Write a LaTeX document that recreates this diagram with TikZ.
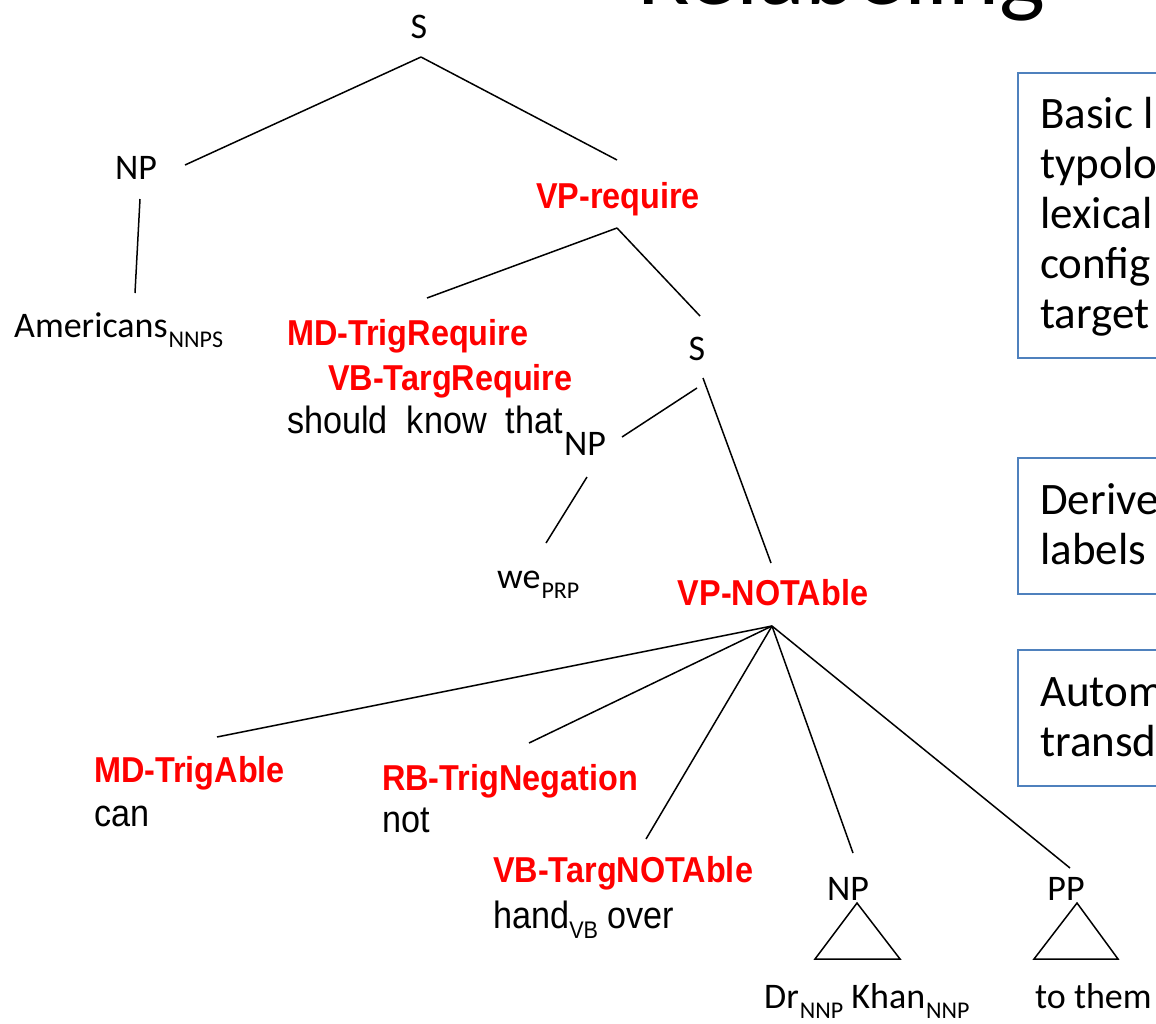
\documentclass[tikz,border=0pt]{standalone}
\usepackage{fontspec}
\setmainfont{Carlito}
\newfontfamily\narrowfont[FakeStretch=0.9]{Liberation Sans}
\definecolor{boxblue}{RGB}{79,129,189}
\definecolor{lblred}{RGB}{255,0,0}
\newcommand\subtag[1]{\kern1pt\raisebox{-10pt}{\fontsize{24}{25}\selectfont #1}}
\newcommand\subtagw[1]{\raisebox{-10pt}{\fontsize{24}{25}\selectfont #1}}
\begin{document}
\begin{tikzpicture}[x=1pt,y=-1pt,
  lbl/.style={inner sep=0pt, font=\fontsize{36}{42}\selectfont},
  redlbl/.style={inner sep=0pt, text=lblred, font=\narrowfont\bfseries\fontsize{36}{42}\selectfont},
  word/.style={inner sep=0pt, font=\narrowfont\fontsize{38}{42}\selectfont},
  edge/.style={line width=1.5pt, black},
  bluebox/.style={draw=boxblue, line width=2pt, inner sep=0pt, anchor=north west},
  boxtxt/.style={inner sep=0pt, anchor=base west, font=\fontsize{45}{50}\selectfont},
  titletxt/.style={inner sep=0pt, anchor=base west, font=\fontsize{97}{100}\selectfont}]
\path[use as bounding box, clip] (0,0) rectangle (1156,1023);
\fill[white] (0,0) rectangle (1156,1023);

% title
\node[titletxt] (title) at (637,4) {Relabeling};

% right boxes
\node[bluebox, minimum width=300pt, minimum height=285pt] (box1) at (1017,72) {};
\node[boxtxt] (b1l1) at (1040,128) {Basic l};
\node[boxtxt] (b1l2) at (1040,178) {typolo};
\node[boxtxt] (b1l3) at (1040,228) {lexical};
\node[boxtxt] (b1l4) at (1040,278) {config};
\node[boxtxt] (b1l5) at (1040,328) {target};
\node[bluebox, minimum width=300pt, minimum height=136pt] (box2) at (1017,457) {};
\node[boxtxt] (b2l1) at (1040,514) {Derive};
\node[boxtxt] (b2l2) at (1040,564) {labels};
\node[bluebox, minimum width=300pt, minimum height=136pt] (box3) at (1017,649) {};
\node[boxtxt] (b3l1) at (1040,706) {Autom};
\node[boxtxt] (b3l2) at (1040,756) {transd};

% tree labels
\node[lbl, anchor=base] (s1) at (419,38) {S};
\node[lbl, anchor=base] (np1) at (136,179) {NP};
\node[lbl, anchor=base west] (americans) at (14,337) {Americans\subtag{NNPS}};
\node[redlbl, anchor=base] (vpreq) at (618,208) {VP-require};
\node[redlbl, anchor=base west] (mdreq) at (287,345) {MD-TrigRequire};
\node[redlbl, anchor=base west] (vbreq) at (328,390) {VB-TargRequire};
\node[word, anchor=base west] (should) at (287,433) {should\ \ know\ \ that};
\node[lbl, anchor=base] (s2) at (697,360) {S};
\node[lbl, anchor=base] (np2) at (585,455) {NP};
\node[lbl, anchor=base west] (we) at (497,588) {we\subtag{PRP}};
\node[redlbl, anchor=base] (vpnot) at (773,605) {VP-NOTAble};
\node[redlbl, anchor=base west] (mdable) at (94,782) {MD-TrigAble};
\node[word, anchor=base west] (can) at (94,826) {can};
\node[redlbl, anchor=base west] (rbneg) at (382,790) {RB-TrigNegation};
\node[word, anchor=base west] (not) at (382,832) {not};
\node[redlbl, anchor=base west] (vbnot) at (493,882) {VB-TargNOTAble};
\node[word, anchor=base west] (hand) at (493,928) {hand\subtagw{VB} over};
\node[lbl, anchor=base] (np3) at (848,900) {NP};
\node[lbl, anchor=base] (pp) at (1066,900) {PP};
\node[lbl, anchor=base west] (drkhan) at (764,1008) {Dr\subtag{NNP} Khan\subtag{NNP}};
\node[lbl, anchor=base west] (tothem) at (1035,1008) {to them};

% connector end points
\coordinate (s1b) at (421,57);
\coordinate (np1t) at (185,165);
\coordinate (vpreqt) at (617,160);
\coordinate (np1b) at (140,199);
\coordinate (amt) at (135,293);
\coordinate (vpreqb) at (617,228);
\coordinate (mdreqt) at (427,298);
\coordinate (s2t) at (700,316);
\coordinate (s2bl) at (697,388);
\coordinate (np2t) at (622,437);
\coordinate (s2br) at (703,378);
\coordinate (vpnott) at (771,563);
\coordinate (np2b) at (587,477);
\coordinate (wet) at (546,543);
\coordinate (vpnotb) at (772,626);
\coordinate (mdablet) at (217,737);
\coordinate (rbnegt) at (529,743);
\coordinate (vbnott) at (646,839);
\coordinate (np3t) at (853,853);
\coordinate (ppt) at (1070,868);
\coordinate (np3apex) at (857,903);
\coordinate (np3bl) at (815,959);
\coordinate (np3br) at (900,959);
\coordinate (ppapex) at (1077,903);
\coordinate (ppbl) at (1034,959);
\coordinate (ppbr) at (1118,959);

% connectors
\draw[edge] (s1b) -- (np1t);
\draw[edge] (s1b) -- (vpreqt);
\draw[edge] (np1b) -- (amt);
\draw[edge] (vpreqb) -- (mdreqt);
\draw[edge] (vpreqb) -- (s2t);
\draw[edge] (s2bl) -- (np2t);
\draw[edge] (s2br) -- (vpnott);
\draw[edge] (np2b) -- (wet);
\draw[edge] (vpnotb) -- (mdablet);
\draw[edge] (vpnotb) -- (rbnegt);
\draw[edge] (vpnotb) -- (vbnott);
\draw[edge] (vpnotb) -- (np3t);
\draw[edge] (vpnotb) -- (ppt);
\draw[edge, line join=miter] (np3apex) -- (np3bl) -- (np3br) -- cycle;
\draw[edge, line join=miter] (ppapex) -- (ppbl) -- (ppbr) -- cycle;
\end{tikzpicture}
\end{document}
